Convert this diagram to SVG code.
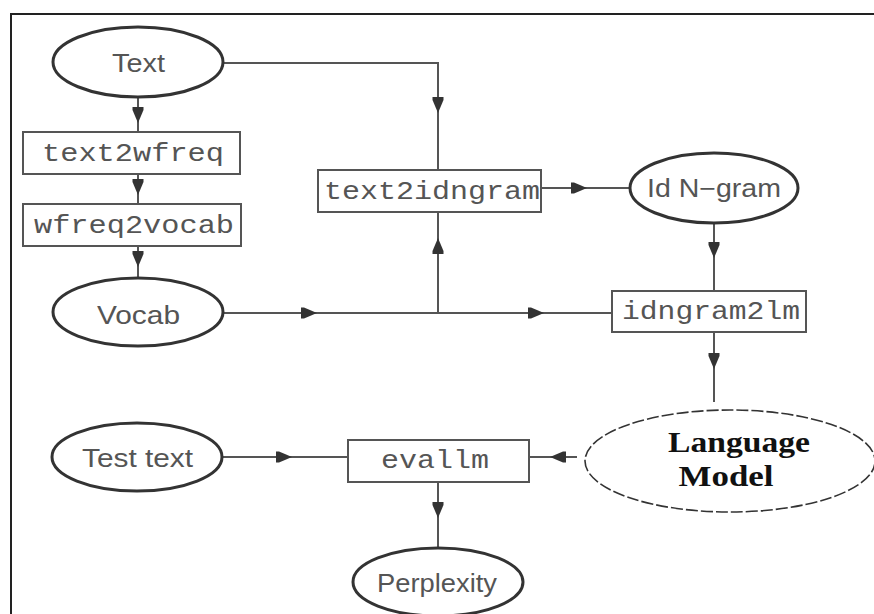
<svg xmlns="http://www.w3.org/2000/svg" xmlns:xlink="http://www.w3.org/1999/xlink" width="874" height="614" viewBox="0 0 874 614">
  <style>
    .frame { stroke: #222; stroke-width: 2; fill: none; }
    .oval { fill: none; stroke: #333; stroke-width: 3; }
    .oval-dash { fill: none; stroke: #333; stroke-width: 1.6; stroke-dasharray: 12 3; }
    .box { fill: #fff; stroke: #555; stroke-width: 2; }
    .wire { fill: none; stroke: #555; stroke-width: 2; }
    .head { fill: #333; }
    .lbl { font-family: "Liberation Sans", Arial, sans-serif; font-size: 25px; fill: #555; text-anchor: middle; }
    .cmd { font-family: "Liberation Mono", "Courier New", monospace; font-size: 25px; fill: #555; text-anchor: middle; }
    .lm { font-family: "Liberation Serif", "Times New Roman", serif; font-size: 29px; font-weight: bold; fill: #111; text-anchor: middle; }
  </style>
  <defs>
    <!-- arrowhead pointing along +x, tip at the origin -->
    <path id="ah" class="head" d="M0,0 L-13,-5.5 L-16,-5.5 L-16,5.5 L-13,5.5 Z"/>
  </defs>

  <rect width="874" height="614" fill="#fff"/>
  <path class="frame" d="M11,614 L11,14 L874,14"/>

  <g id="connectors">
    <path class="wire" d="M138,97 L138,132"/>
    <path class="wire" d="M138,174 L138,204"/>
    <path class="wire" d="M138,246 L138,278"/>
    <path class="wire" d="M223,63 L438,63 L438,170"/>
    <path class="wire" d="M541,188 L630,188"/>
    <path class="wire" d="M223,313 L612,313"/>
    <path class="wire" d="M438,313 L438,212"/>
    <path class="wire" d="M714,222 L714,291"/>
    <path class="wire" d="M714,332 L714,402"/>
    <path class="wire" d="M222,457 L348,457"/>
    <path class="wire" d="M529,457 L577,457"/>
    <path class="wire" d="M438,482 L438,549"/>

    <use xlink:href="#ah" transform="translate(138,123) rotate(90)"/>
    <use xlink:href="#ah" transform="translate(138,195) rotate(90)"/>
    <use xlink:href="#ah" transform="translate(138,267) rotate(90)"/>
    <use xlink:href="#ah" transform="translate(438,113) rotate(90)"/>
    <use xlink:href="#ah" transform="translate(587,188)"/>
    <use xlink:href="#ah" transform="translate(317,313)"/>
    <use xlink:href="#ah" transform="translate(544,313)"/>
    <use xlink:href="#ah" transform="translate(438,238) rotate(-90)"/>
    <use xlink:href="#ah" transform="translate(714,258) rotate(90)"/>
    <use xlink:href="#ah" transform="translate(714,369) rotate(90)"/>
    <use xlink:href="#ah" transform="translate(292,457)"/>
    <use xlink:href="#ah" transform="translate(550,457) rotate(180)"/>
    <use xlink:href="#ah" transform="translate(438,518) rotate(90)"/>
  </g>

  <g id="text">
    <ellipse class="oval" cx="138" cy="62" rx="85" ry="35"/>
    <text class="lbl" x="138.5" y="72" textLength="53" lengthAdjust="spacingAndGlyphs">Text</text>
  </g>
  <g id="text2wfreq">
    <rect class="box" x="23" y="132" width="217" height="42"/>
    <text class="cmd" x="133" y="161" textLength="182" lengthAdjust="spacingAndGlyphs">text2wfreq</text>
  </g>
  <g id="wfreq2vocab">
    <rect class="box" x="23" y="204" width="218" height="42"/>
    <text class="cmd" x="134" y="233" textLength="200" lengthAdjust="spacingAndGlyphs">wfreq2vocab</text>
  </g>
  <g id="vocab">
    <ellipse class="oval" cx="138" cy="312" rx="85" ry="34"/>
    <text class="lbl" x="138.5" y="324" textLength="83" lengthAdjust="spacingAndGlyphs">Vocab</text>
  </g>
  <g id="text2idngram">
    <rect class="box" x="318" y="170" width="223" height="42"/>
    <text class="cmd" x="432" y="199" textLength="216" lengthAdjust="spacingAndGlyphs">text2idngram</text>
  </g>
  <g id="id-ngram">
    <ellipse class="oval" cx="714" cy="188" rx="84" ry="35"/>
    <text class="lbl" x="714" y="197" textLength="134" lengthAdjust="spacingAndGlyphs">Id N−gram</text>
  </g>
  <g id="idngram2lm">
    <rect class="box" x="612" y="291" width="194" height="41"/>
    <text class="cmd" x="711" y="319" textLength="178" lengthAdjust="spacingAndGlyphs">idngram2lm</text>
  </g>
  <g id="language-model">
    <ellipse class="oval-dash" cx="730" cy="461" rx="145" ry="51"/>
    <text class="lm" x="739" y="452" textLength="142" lengthAdjust="spacingAndGlyphs">Language</text>
    <text class="lm" x="726" y="486" textLength="95" lengthAdjust="spacingAndGlyphs">Model</text>
  </g>
  <g id="test-text">
    <ellipse class="oval" cx="137" cy="457" rx="85" ry="34"/>
    <text class="lbl" x="137.5" y="467" textLength="111" lengthAdjust="spacingAndGlyphs">Test text</text>
  </g>
  <g id="evallm">
    <rect class="box" x="348" y="440" width="181" height="42"/>
    <text class="cmd" x="435" y="468" textLength="108" lengthAdjust="spacingAndGlyphs">evallm</text>
  </g>
  <g id="perplexity">
    <ellipse class="oval" cx="438" cy="582" rx="85" ry="34"/>
    <text class="lbl" x="437" y="592" textLength="120" lengthAdjust="spacingAndGlyphs">Perplexity</text>
  </g>
</svg>
